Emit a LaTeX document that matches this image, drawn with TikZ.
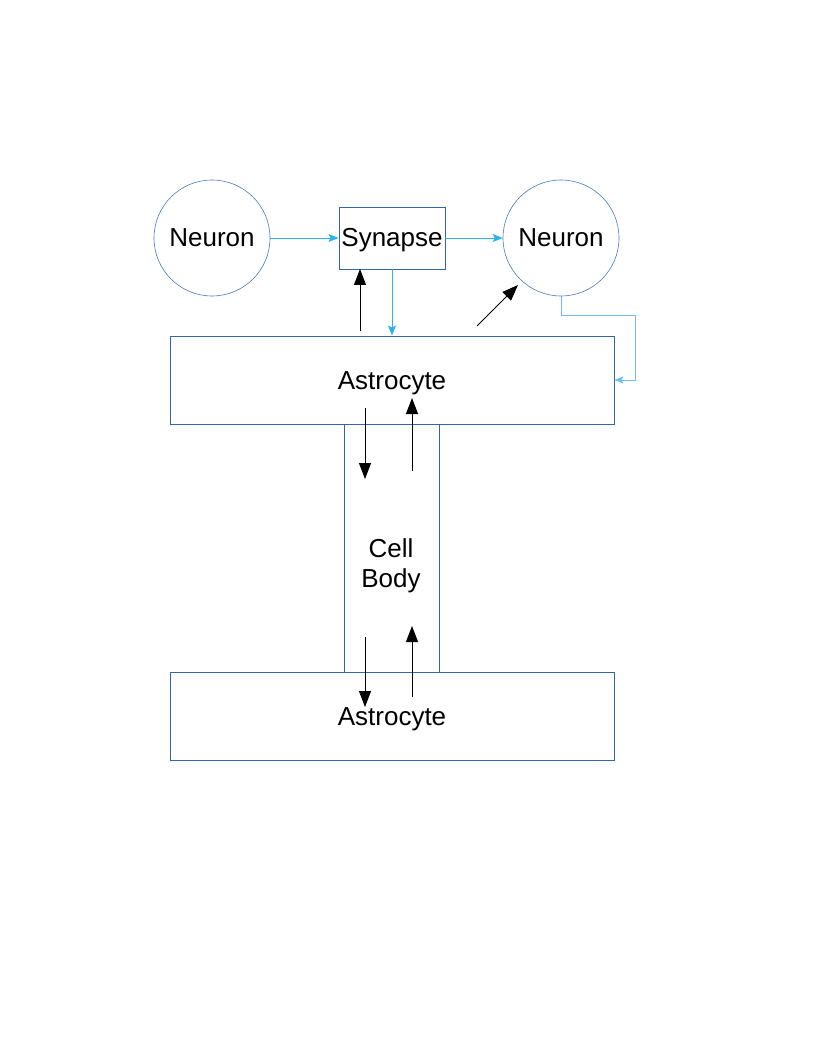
\documentclass[tikz,border=0pt]{standalone}
\usepackage{fontspec}
\setmainfont{Liberation Sans}
\usetikzlibrary{arrows.meta}
\definecolor{boxblue}{HTML}{3465A4}
\definecolor{circblue}{HTML}{4A78C0}
\definecolor{arrblue}{HTML}{2AB4F0}
\definecolor{linkblue}{HTML}{6EBEE6}
\tikzset{
  x=1pt,y=-1pt,
  lbl/.style={font=\fontsize{26}{30}\selectfont, align=center, inner sep=0pt},
  one/.style={text height=18pt, text depth=0pt},
  boxnode/.style={draw=boxblue, line width=0.9pt, inner sep=0pt},
  neuron/.style={circle, draw=circblue, line width=0.6pt, minimum size=116pt, inner sep=0pt, font=\fontsize{26}{30}\selectfont, one},
  bluearrow/.style={draw=arrblue, line width=0.9pt, -{Stealth[length=10pt,width=8pt,inset=2pt]}},
  blackarrow/.style={draw=black, line width=0.9pt, -{Triangle[length=16pt,width=12pt]}},
}
\begin{document}
\begin{tikzpicture}
\useasboundingbox (0,0) rectangle (816,1056);
% nodes
\node[neuron] (n1) at (212,238) {Neuron};
\node[neuron] (n2) at (561,238) {Neuron};
\node[boxnode, minimum width=106pt, minimum height=62pt, lbl, one] (syn) at (392,238) {Synapse};
\node[boxnode, minimum width=95pt, minimum height=248pt] (cell) at (391.5,548) {};
\node[boxnode, fill=white, minimum width=444pt, minimum height=88pt] (a1) at (392,380) {};
\node[boxnode, fill=white, minimum width=444pt, minimum height=88pt] (a2) at (392,716) {};
\node[lbl, one] (a1t) at (392,380) {Astrocyte};
\node[lbl, one] (a2t) at (392,716) {Astrocyte};
\node[lbl] (cellt) at (391,566) {Cell\\Body};
% blue connectors
\draw[bluearrow] (n1.east) -- (syn.west);
\draw[bluearrow] (syn.east) -- (n2.west);
\draw[bluearrow] (syn.south) -- (syn.south |- a1.north);
\coordinate (c1) at (561,315);
\coordinate (c2) at (635,315);
\coordinate (c3) at (635,380);
\draw[draw=linkblue, line width=0.7pt, -{Stealth[length=9pt,width=7pt,inset=2pt]}] (n2.south) -- (c1) -- (c2) -- (c3) -- (a1.east);
% black arrows
\coordinate (b1s) at (360,331);
\coordinate (b1e) at (360,269);
\draw[blackarrow] (b1s) -- (b1e);
\coordinate (b2s) at (477,326);
\coordinate (b2e) at (518,285);
\draw[blackarrow] (b2s) -- (b2e);
\coordinate (d1s) at (365,408);
\coordinate (d1e) at (365,479);
\draw[blackarrow] (d1s) -- (d1e);
\coordinate (u1s) at (412,471);
\coordinate (u1e) at (412,398);
\draw[blackarrow] (u1s) -- (u1e);
\coordinate (d2s) at (365,637);
\coordinate (d2e) at (365,707);
\draw[blackarrow] (d2s) -- (d2e);
\coordinate (u2s) at (412,697);
\coordinate (u2e) at (412,626);
\draw[blackarrow] (u2s) -- (u2e);
\end{tikzpicture}
\end{document}
